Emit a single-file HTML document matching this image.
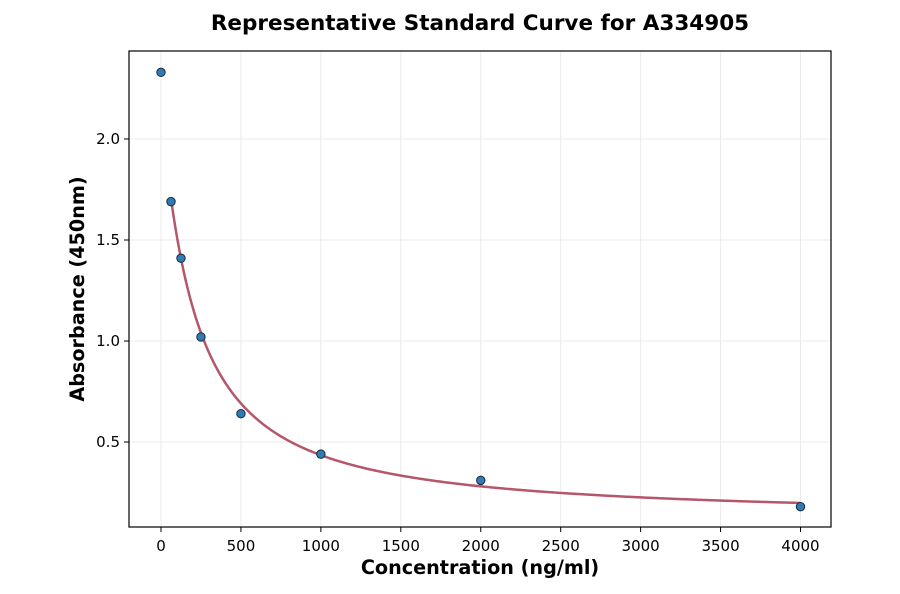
<!DOCTYPE html>
<html><head><meta charset="utf-8"><style>
body{margin:0;background:#fff;}
svg{display:block;font-family:"DejaVu Sans","Liberation Sans",sans-serif;}
</style></head><body>
<svg id="chart" width="900" height="594" viewBox="0 0 900 594">
<text x="480" y="30" text-anchor="middle" font-size="21.5" font-weight="bold">Representative Standard Curve for A334905</text>
<g id="grid"></g>
<g id="curve"></g>
<g id="points"></g>
<rect x="129" y="51" width="702" height="476" fill="none" stroke="#000" stroke-width="1.2"/>
<g id="xticks"></g>
<g id="yticks"></g>
<text x="480" y="574" text-anchor="middle" font-size="19.2" font-weight="bold">Concentration (ng/ml)</text>
<text transform="translate(84,289) rotate(-90)" text-anchor="middle" font-size="19.2" font-weight="bold">Absorbance (450nm)</text>
</svg>
<script>
const concentrations=[0,62.5,125,250,500,1000,2000,4000];
const absorbances=[2.33,1.69,1.41,1.02,0.64,0.44,0.31,0.18];
const xTickValues=[0,500,1000,1500,2000,2500,3000,3500,4000];
const yTickValues=[0.5,1.0,1.5,2.0];
const fitA=2.1,fitD=0.12,fitC=220,fitB=1.1;
const NS="http://www.w3.org/2000/svg";
function X(v){return 161+v*(639.5/4000);}
function Y(v){return 543-v*202;}
function mk(t,a,p){const e=document.createElementNS(NS,t);for(const k in a)e.setAttribute(k,a[k]);p.appendChild(e);return e;}
const grid=document.getElementById('grid'),xt=document.getElementById('xticks'),yt=document.getElementById('yticks');
xTickValues.forEach(v=>{
 const g=mk('line',{x1:X(v),x2:X(v),y1:51,y2:527,stroke:'#ebebeb','stroke-width':1},grid);
 
 
 const t=mk('line',{x1:X(v),x2:X(v),y1:527,y2:532,stroke:'#000'},xt);
 
 
 const l=mk('text',{x:X(v),y:551,'text-anchor':'middle','font-size':15},xt);l.textContent=v;
 
 
});
yTickValues.forEach(v=>{
 const g=mk('line',{x1:129,x2:831,y1:Y(v),y2:Y(v),stroke:'#ebebeb','stroke-width':1},grid);
 
 
 const t=mk('line',{x1:124,x2:129,y1:Y(v),y2:Y(v),stroke:'#000'},yt);
 
 
 const l=mk('text',{x:120,y:Y(v)+5,'text-anchor':'end','font-size':15},yt);l.textContent=v.toFixed(1);
 
 
});
let d='';
for(let i=0;i<=300;i++){
 const x=62.5+(4000-62.5)*i/300;
 const y=fitD+(fitA-fitD)/(1+Math.pow(x/fitC,fitB));
 d+=(i?'L':'M')+X(x).toFixed(2)+','+Y(y).toFixed(2);
}
const p=mk('path',{d:d,fill:'none',stroke:'#b5566a','stroke-width':2.5},document.getElementById('curve'));


concentrations.forEach((c,i)=>{
 const pt=mk('circle',{cx:X(c),cy:Y(absorbances[i]),r:4.2,fill:'#2e7bb6',stroke:'#1a2a3a','stroke-width':1},document.getElementById('points'));
 
 
});
</script>
</body></html>
